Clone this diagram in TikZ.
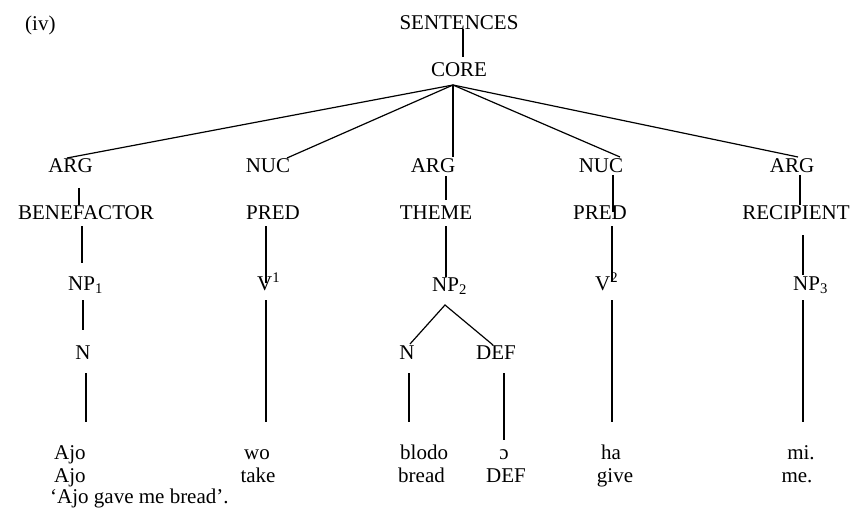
\documentclass[tikz,border=0pt]{standalone}
\usepackage{fontspec}
\setmainfont{Liberation Serif}
\begin{document}
\begin{tikzpicture}[x=1pt,y=-1pt,
  lbl/.style={inner sep=0pt, anchor=base, font=\fontsize{21}{25}\selectfont},
  lblw/.style={lbl, anchor=base west},
  branch/.style={line width=1.2pt, black}]
\useasboundingbox (0,0) rectangle (852,508);

% ---- labels ----
\node[lblw] (num) at (25,31) {(iv)};
\node[lbl] (sent) at (459,30) {SENTENCES};
\node[lbl] (core) at (459,77) {CORE};

\node[lbl] (arg1) at (70.5,173) {ARG};
\node[lbl] (nuc1) at (268,173) {NUC};
\node[lbl] (arg2) at (433,173) {ARG};
\node[lbl] (nuc2) at (601,173) {NUC};
\node[lbl] (arg3) at (792,173) {ARG};

\node[lbl] (benef) at (86,219) {BENEFACTOR};
\node[lbl] (pred1) at (273,219) {PRED};
\node[lbl] (theme) at (436,219) {THEME};
\node[lbl] (pred2) at (600,219) {PRED};
\node[lbl] (recip) at (796,219) {RECIPIENT};

\node[lblw] (np1) at (68,290) {NP\textsubscript{1}};
\node[lblw] (v1) at (257,290) {V\textsuperscript{1}};
\node[lblw] (np2) at (432,291) {NP\textsubscript{2}};
\node[lblw] (v2) at (595,290) {V\textsuperscript{2}};
\node[lblw] (np3) at (793,290) {NP\textsubscript{3}};

\node[lbl] (n1) at (83,359) {N};
\node[lbl] (n2) at (407,359) {N};
\node[lbl] (def) at (496,359) {DEF};

% ---- example words, gloss and translation ----
\node[lblw] (w1) at (54,459) {Ajo};
\node[lbl]  (w2) at (257,459) {wo};
\node[lblw] (w3) at (400,459) {blodo};
\node[lbl]  (w4) at (504,459) {ɔ};
\node[lbl]  (w5) at (611,459) {ha};
\node[lbl]  (w6) at (801,459) {mi.};

\node[lblw] (g1) at (54,482) {Ajo};
\node[lbl]  (g2) at (258,482) {take};
\node[lblw] (g3) at (398,482) {bread};
\node[lbl]  (g4) at (506,482) {DEF};
\node[lbl]  (g5) at (615,482) {give};
\node[lbl]  (g6) at (797,482) {me.};

\node[lblw] (tr) at (50,503) {‘Ajo gave me bread’.};

% ---- branch end points ----
\coordinate (sentB) at (463,29);
\coordinate (coreT) at (463,57);
\coordinate (coreB) at (453,85);
\coordinate (arg1T) at (67,158);
\coordinate (nuc1T) at (287,158);
\coordinate (arg2T) at (453,157);
\coordinate (nuc2T) at (620,157);
\coordinate (arg3T) at (798,157);

\coordinate (arg1B) at (79,188);   \coordinate (benefT) at (79,205);
\coordinate (benefB) at (82,226);  \coordinate (np1T) at (82,263);
\coordinate (pred1B) at (266,226); \coordinate (v1T) at (266,283);
\coordinate (arg2B) at (446,176);  \coordinate (themeT) at (446,200);
\coordinate (themeB) at (446,226); \coordinate (np2T) at (446,277);
\coordinate (nuc2B) at (613,175);  \coordinate (pred2T) at (613,212);
\coordinate (pred2B) at (612,226); \coordinate (v2T) at (612,282);
\coordinate (arg3B) at (800,175);  \coordinate (recipT) at (800,205);
\coordinate (recipB) at (803,235); \coordinate (np3T) at (803,275);

\coordinate (np1B) at (83,300);    \coordinate (n1T) at (83,330);
\coordinate (n1B) at (86,373);     \coordinate (w1T) at (86,422);
\coordinate (v1B) at (266,300);    \coordinate (w2T) at (266,422);
\coordinate (np2B) at (445,305);
\coordinate (n2T) at (410,344);    \coordinate (defT) at (493,345);
\coordinate (n2B) at (409,373);    \coordinate (w3T) at (409,422);
\coordinate (defB) at (504,373);   \coordinate (w4T) at (504,440);
\coordinate (v2B) at (612,300);    \coordinate (w5T) at (612,422);
\coordinate (np3B) at (803,300);   \coordinate (w6T) at (803,422);

% ---- branches ----
\draw[branch] (sentB) -- (coreT);
\draw[branch] (coreB) -- (arg1T);
\draw[branch] (coreB) -- (nuc1T);
\draw[branch] (coreB) -- (arg2T);
\draw[branch] (coreB) -- (nuc2T);
\draw[branch] (coreB) -- (arg3T);

\draw[branch] (arg1B) -- (benefT);
\draw[branch] (benefB) -- (np1T);
\draw[branch] (pred1B) -- (v1T);
\draw[branch] (arg2B) -- (themeT);
\draw[branch] (themeB) -- (np2T);
\draw[branch] (nuc2B) -- (pred2T);
\draw[branch] (pred2B) -- (v2T);
\draw[branch] (arg3B) -- (recipT);
\draw[branch] (recipB) -- (np3T);

\draw[branch] (np1B) -- (n1T);
\draw[branch] (n1B) -- (w1T);
\draw[branch] (v1B) -- (w2T);
\draw[branch] (n2T) -- (np2B) -- (defT);
\draw[branch] (n2B) -- (w3T);
\draw[branch] (defB) -- (w4T);
\draw[branch] (v2B) -- (w5T);
\draw[branch] (np3B) -- (w6T);
\end{tikzpicture}
\end{document}
